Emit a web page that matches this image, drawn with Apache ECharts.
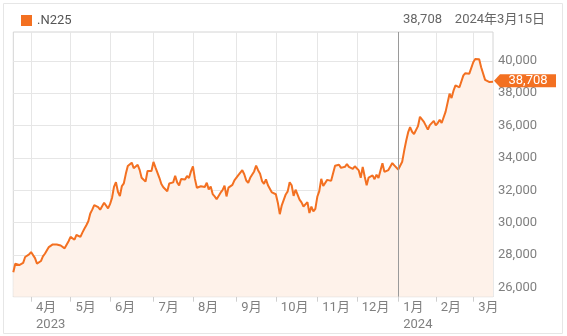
<!DOCTYPE html>
<html>
<head>
<meta charset="utf-8">
<script src="https://cdn.jsdelivr.net/npm/echarts@6/dist/echarts.min.js"></script>
<style>
html,body{margin:0;padding:0;background:#fff;}
#chart{width:567px;height:336px;}
</style>
</head>
<body>
<div id="chart"></div>
<script>
// Trading months and their trading days
const months = ['2023-03','2023-04','2023-05','2023-06','2023-07','2023-08','2023-09','2023-10','2023-11','2023-12','2024-01','2024-02','2024-03'];
const monthDays = [
  [20,22,23,24,27,28,29,30,31],
  [3,4,5,6,7,10,11,12,13,14,17,18,19,20,21,24,25,26,27,28],
  [1,2,8,9,10,11,12,15,16,17,18,19,22,23,24,25,26,29,30,31],
  [1,2,5,6,7,8,9,12,13,14,15,16,19,20,21,22,23,26,27,28,29,30],
  [3,4,5,6,7,10,11,12,13,14,18,19,20,21,24,25,26,27,28,31],
  [1,2,3,4,7,8,9,10,14,15,16,17,18,21,22,23,24,25,28,29,30,31],
  [1,4,5,6,7,8,11,12,13,14,15,19,20,21,22,25,26,27,28,29],
  [2,3,4,5,6,10,11,12,13,16,17,18,19,20,23,24,25,26,27,30,31],
  [1,2,6,7,8,9,10,13,14,15,16,17,20,21,22,24,27,28,29,30],
  [1,4,5,6,7,8,11,12,13,14,15,18,19,20,21,22,25,26,27,28,29],
  [4,5,9,10,11,12,15,16,17,18,19,22,23,24,25,26,29,30,31],
  [1,2,5,6,7,8,9,13,14,15,16,19,20,21,22,26,27,28,29],
  [1,4,5,6,7,8,11,12,13,14,15]
];
// Closing values (one per trading day)
const closes = [
  26945,27466,27419,27385,27476,27518,27883,27782,28041,
  28188,28287,27813,27472,27518,27633,27923,28082,28157,28493,28514,28658,28606,28657,28564,28593,28620,28416,28457,28856,
  29123,29157,28950,29242,29122,29126,29388,29626,29842,30093,30573,30808,31086,31066,30957,30801,30916,31233,31328,30888,
  31148,31524,32217,32506,31913,31641,32265,32434,33018,33502,33485,33706,33370,33388,33575,33264,32781,32698,32538,33193,33234,33189,
  33753,33422,33338,32773,32388,32189,32203,31943,32419,32391,32493,32896,32490,32304,32700,32682,32668,32891,32759,33172,
  33476,32707,32159,32192,32254,32377,32204,32473,32059,32238,31766,31626,31450,31565,31856,32010,32287,31624,32169,32227,32333,32619,
  32710,32939,33036,33241,32991,32606,32467,32776,32706,33168,33533,33242,33023,32571,32402,32679,32315,32371,31872,31857,
  31759,31237,30526,31075,30994,31746,31936,32494,32315,31659,32040,32042,31430,31259,30999,31062,31269,30601,30991,30697,30859,
  31601,31950,32708,32272,32166,32646,32568,32585,32695,33519,33424,33585,33388,33354,33452,33625,33447,33408,33321,33486,
  33431,33231,32775,33445,32858,32307,32791,32843,32926,32686,32970,32758,33219,33675,33140,33169,33254,33305,33681,33540,33464,
  33288,33377,33763,34441,35049,35577,35901,35619,35477,35466,35963,36546,36517,36226,36236,35751,36026,36065,36287,
  36011,36158,36354,36160,36119,36863,36897,37963,37703,38157,38487,38470,38364,38262,39098,39234,39240,39208,39166,
  39911,40110,40098,40091,39599,39689,38820,38797,38696,38807,38708
];
const yTicks = [26000,28000,30000,32000,34000,36000,38000,40000];
const seriesName = '.N225';
const yearMarkDate = '2024-01-04';

const categories = [];
months.forEach((m, i) => {
  monthDays[i].forEach(d => categories.push(m + '-' + String(d).padStart(2,'0')));
});

function fmt(v){ return Number(v).toLocaleString('en-US'); }
function isMonthStart(i){
  if (i <= 0) return false;
  return categories[i].slice(0,7) !== categories[i-1].slice(0,7);
}
let firstLabelShown = false;
const yearLabelIdx = {};
(function(){
  let first = true;
  for (let i = 0; i < categories.length; i++) {
    if (isMonthStart(i)) {
      const mo = +categories[i].slice(5,7);
      if (first || mo === 1) { yearLabelIdx[i] = true; first = false; }
    }
  }
})();

const lastIdx = closes.length - 1;
const lastDate = categories[lastIdx];
const lastVal = closes[lastIdx];
const dateText = (+lastDate.slice(0,4)) + '年' + (+lastDate.slice(5,7)) + '月' + (+lastDate.slice(8,10)) + '日';

const FONT = 'Roboto, "Noto Sans CJK JP", sans-serif';
const chart = echarts.init(document.getElementById('chart'), null, {renderer:'canvas'});
chart.setOption({
  animation: false,
  backgroundColor: '#fff',
  textStyle: {fontFamily: FONT},
  graphic: [
    {type:'rect', z:-10, silent:true, shape:{x:3.5,y:3.5,width:559,height:330}, style:{fill:'none', stroke:'#e6e6e6', lineWidth:1}},
    {type:'text', silent:true, style:{x:442, y:20, text: fmt(lastVal), textAlign:'right', textVerticalAlign:'middle', fill:'#666', font:'13px ' + FONT}},
    {type:'text', silent:true, style:{x:545, y:20, text: dateText, textAlign:'right', textVerticalAlign:'middle', fill:'#666', font:'13px ' + FONT}}
  ],
  legend: {
    data: [seriesName], left: 21, top: 14, padding: 0,
    icon: 'rect', itemWidth: 11, itemHeight: 11, itemGap: 10,
    textStyle: {fontSize: 13, color: '#555', fontFamily: FONT}
  },
  grid: {left: 13.3, right: 74, top: 32, bottom: 39.3, show: true, borderColor: '#d4d4d4', borderWidth: 1, containLabel: false},
  xAxis: {
    type: 'category', data: categories, boundaryGap: false,
    axisLine: {show: true, lineStyle: {color: '#d4d4d4'}},
    axisTick: {show: true, interval: (i) => isMonthStart(i), length: 5, lineStyle: {color: '#cfcfcf'}},
    splitLine: {show: true, interval: (i) => isMonthStart(i), lineStyle: {color: '#e6e6e6'}},
    axisLabel: {
      interval: (i) => isMonthStart(i),
      formatter: (v, i) => {
        const mo = +v.slice(5,7);
        let s = mo + '月';
        if (yearLabelIdx[i]) s += '\n' + v.slice(0,4);
        return s;
      },
      align: 'left', padding: [0,0,0,5], margin: 3,
      fontSize: 13, lineHeight: 16.5, color: '#808080', fontFamily: FONT
    }
  },
  yAxis: {
    type: 'value', position: 'right', min: 25430, max: 41780,
    axisLine: {show: false},
    axisTick: {show: false, customValues: yTicks},
    splitLine: {show: true, lineStyle: {color: '#e6e6e6'}},
    axisLabel: {customValues: yTicks, formatter: (v) => fmt(v), margin: 5, fontSize: 13, color: '#808080', fontFamily: FONT}
  },
  series: [{
    name: seriesName, type: 'line', data: closes,
    showSymbol: false, symbol: 'none',
    itemStyle: {color: '#f37021'},
    lineStyle: {color: '#f37021', width: 2},
    areaStyle: {color: '#fef2ea', opacity: 1},
    markLine: {
      silent: true, symbol: ['none','none'], label: {show: false},
      lineStyle: {color: '#9a9a9a', width: 1, type: 'solid'},
      data: [{xAxis: yearMarkDate}]
    },
    markPoint: {
      silent: true,
      symbol: 'path://M0,6.5L6,0L62,0L62,13L6,13Z',
      symbolSize: [62, 13], symbolKeepAspect: false, symbolOffset: [32, -1],
      itemStyle: {color: '#f37021'},
      label: {show: true, position: 'inside', offset: [3, 0], color: '#fff', fontSize: 13, fontFamily: FONT, formatter: (p) => fmt(p.value)},
      data: [{coord: [lastDate, lastVal], value: lastVal}]
    }
  }]
});
</script>
</body>
</html>
